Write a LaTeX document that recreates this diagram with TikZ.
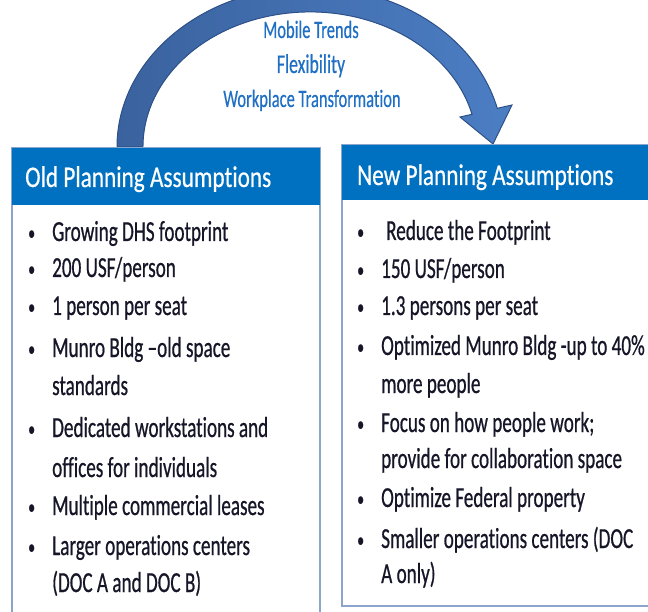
\documentclass[tikz,border=0pt]{standalone}
\usepackage{fontspec}
\setmainfont{Carlito}
\newfontfamily\corpo[FakeStretch=0.66, FakeBold=0.6, Ligatures=NoCommon]{Carlito}
\newfontfamily\arcofont[FakeStretch=0.66, FakeBold=0.4, Ligatures=NoCommon]{Carlito}
\newfontfamily\testa[FakeStretch=0.775, FakeBold=0.5, Ligatures=NoCommon]{Carlito}
\newcommand{\punto}{\makebox[24pt][l]{\raisebox{1pt}{\fontsize{21}{21}\selectfont •}}}
\definecolor{blutesta}{RGB}{0,112,192}
\definecolor{cornice}{RGB}{140,165,205}
\definecolor{testo}{RGB}{22,22,40}
\definecolor{bluarco}{RGB}{31,111,196}
\definecolor{freccia1}{RGB}{58,98,158}
\definecolor{freccia2}{RGB}{76,126,196}
\definecolor{bordofreccia}{RGB}{45,80,135}

\begin{document}
\begin{tikzpicture}[x=1pt, y=-1pt,
    voce/.style={anchor=base west, inner sep=0pt, text=testo,
      font=\corpo\fontsize{29}{29}\selectfont},
    titolo/.style={anchor=base west, inner sep=0pt, text=white,
      font=\testa\fontsize{30}{30}\selectfont},
    arco/.style={anchor=base, inner sep=0pt, text=bluarco,
      font=\arcofont\fontsize{25}{25}\selectfont}]
  % vecchie e nuove ipotesi
  \useasboundingbox (0,0) rectangle (648,612);
  \clip (0,0) rectangle (648,612);

  % freccia curva
  \path[draw=bordofreccia, line width=1pt, left color=freccia1, right color=freccia2]
    (117,147) arc[start angle=180, end angle=346, x radius=193, y radius=160]
    -- (512,105) -- (493,144) -- (460,117)
    -- (472,114.3) arc[start angle=346, end angle=180, x radius=167, y radius=135]
    -- cycle;

  \node[arco] (mob) at (311,38) {Mobile Trends};
  \node[arco, font=\arcofont\fontsize{27}{27}\selectfont] (fle) at (311,73) {Flexibility};
  \node[arco] (wor) at (312,107) {Workplace Transformation};

  % riquadri
  \draw[cornice, line width=1.2pt, fill=white] (12,148) rectangle (320,640);
  \fill[blutesta] (12,148) rectangle (320,205);
  \draw[cornice, line width=1.2pt, fill=white] (342,145) rectangle (670,606);
  \fill[blutesta] (342,145) rectangle (670,200);

  \node[titolo] (tv) at (25,187) {Old Planning Assumptions};
  \node[titolo] (tn) at (357,185) {New Planning Assumptions};

  % colonna sinistra
  \node[voce] (v1) at (28,241) {\punto Growing DHS footprint};
  \node[voce] (v2) at (28,277) {\punto 200 USF/person};
  \node[voce] (v3) at (28,315) {\punto 1 person per seat};
  \node[voce] (v4) at (28,357) {\punto Munro Bldg –old space};
  \node[voce] (v5) at (52,395) {standards};
  \node[voce] (v6) at (28,437) {\punto Dedicated workstations and};
  \node[voce] (v7) at (52,477) {offices for individuals};
  \node[voce] (v8) at (28,515) {\punto Multiple commercial leases};
  \node[voce] (v9) at (28,555) {\punto Larger operations centers};
  \node[voce] (v10) at (52,592) {(DOC A and DOC B)};

  % colonna destra
  \node[voce] (n1) at (357,240) {\punto\hspace{5pt}Reduce the Footprint};
  \node[voce] (n2) at (357,278) {\punto 150 USF/person};
  \node[voce] (n3) at (357,315) {\punto 1.3 persons per seat};
  \node[voce] (n4) at (357,355) {\punto Optimized Munro Bldg -up to 40\%};
  \node[voce] (n5) at (381,393) {more people};
  \node[voce] (n6) at (357,432) {\punto Focus on how people work;};
  \node[voce] (n7) at (381,468) {provide for collaboration space};
  \node[voce] (n8) at (357,507) {\punto Optimize Federal property};
  \node[voce] (n9) at (357,548) {\punto Smaller operations centers (DOC};
  \node[voce] (n10) at (381,583) {A only)};
\end{tikzpicture}
\end{document}
